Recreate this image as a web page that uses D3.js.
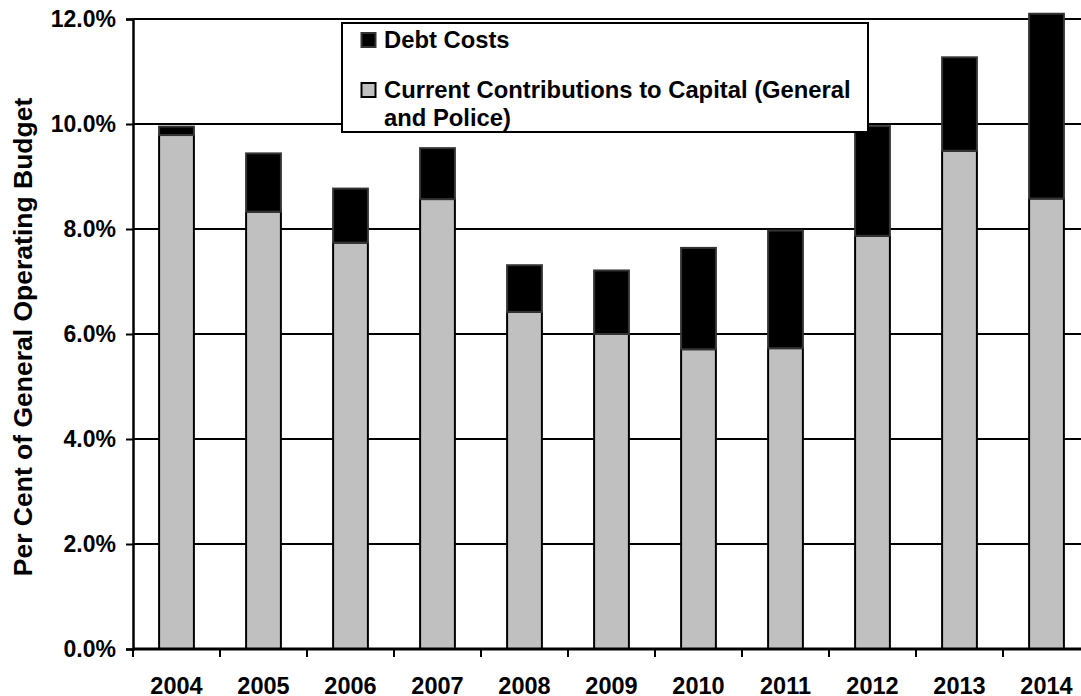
<!DOCTYPE html>
<html>
<head>
<meta charset="utf-8">
<script src="https://cdn.jsdelivr.net/npm/d3@7"></script>
<style>
  body { margin: 0; background: #fff; }
  svg { display: block; font-family: "Liberation Sans", Arial, sans-serif; font-weight: bold; }
</style>
</head>
<body>
<svg id="plot"></svg>
<script>
const years = ["2004", "2005", "2006", "2007", "2008", "2009", "2010", "2011", "2012", "2013", "2014"];
const capital = [9.79, 8.33, 7.74, 8.57, 6.42, 6.0, 5.71, 5.73, 7.87, 9.49, 8.58];
const debt = [0.16, 1.11, 1.03, 0.97, 0.89, 1.21, 1.93, 2.24, 2.09, 1.78, 3.52];
const yTicks = [0, 2, 4, 6, 8, 10, 12];
const seriesNames = ["Debt Costs", "Current Contributions to Capital (General", "and Police)"];

const W = 1081, H = 696;
const plot = { left: 133, bottom: 649, top: 19, right: 1090 };

const svg = d3.select("#plot").attr("width", W).attr("height", H);

const x = d3.scaleBand().domain(years).range([plot.left, plot.right]).padding(0);
const y = d3.scaleLinear().domain([0, 12]).range([plot.bottom, plot.top]);
const bw = x.bandwidth() * 0.4;

// gridlines
svg.append("g")
    .selectAll("line")
    .data(yTicks.filter((d) => d > 0))
    .join("line")
    .attr("x1", plot.left).attr("x2", plot.right)
    .attr("y1", (d) => y(d)).attr("y2", (d) => y(d))
    .attr("stroke", "#000").attr("stroke-width", 2);

const rows = years.map((yr, i) => ({ yr, cap: capital[i], debt: debt[i] }));

// capital (grey) segment
svg.append("g")
    .selectAll("rect")
    .data(rows)
    .join("rect")
    .attr("x", (d) => x(d.yr) + (x.bandwidth() - bw) / 2)
    .attr("width", bw)
    .attr("y", (d) => y(d.cap))
    .attr("height", (d) => y(0) - y(d.cap))
    .attr("fill", "#c0c0c0")
    .attr("stroke", "#000").attr("stroke-width", 2);

// debt (black) segment
svg.append("g")
    .selectAll("rect")
    .data(rows)
    .join("rect")
    .attr("x", (d) => x(d.yr) + (x.bandwidth() - bw) / 2)
    .attr("width", bw)
    .attr("y", (d) => y(d.cap + d.debt))
    .attr("height", (d) => y(d.cap) - y(d.cap + d.debt))
    .attr("fill", "#000")
    .attr("stroke", "#333").attr("stroke-width", 2);

// y axis
const yAxis = d3.axisLeft(y).tickValues(yTicks).tickSize(7).tickPadding(10)
    .tickFormat((d) => d3.format(".1%")(d / 100));
const gy = svg.append("g").attr("transform", `translate(${plot.left},0)`).call(yAxis);
gy.select(".domain").attr("stroke", "#000").attr("stroke-width", 2.5);
gy.selectAll(".tick line").attr("stroke", "#000").attr("stroke-width", 2);
gy.selectAll(".tick text").attr("font-size", 23).attr("font-weight", "bold").attr("fill", "#000");

// x axis
const xAxis = d3.axisBottom(x).tickSize(0).tickPadding(28);
const gx = svg.append("g").attr("transform", `translate(0,${plot.bottom})`).call(xAxis);
gx.select(".domain").remove();
gx.selectAll(".tick text").attr("font-size", 23.5).attr("font-weight", "bold").attr("fill", "#000");
gx.append("line").attr("x1", plot.left).attr("x2", plot.right).attr("stroke", "#000").attr("stroke-width", 3);
gx.selectAll(".sep")
    .data(years)
    .join("line")
    .attr("class", "sep")
    .attr("x1", (d) => x(d)).attr("x2", (d) => x(d))
    .attr("y1", 0).attr("y2", 8)
    .attr("stroke", "#000").attr("stroke-width", 2);

// y title
svg.append("text")
    .attr("transform", "translate(32,337) rotate(-90)")
    .attr("text-anchor", "middle")
    .attr("font-size", 26.5)
    .text("Per Cent of General Operating Budget");

// legend
const lg = svg.append("g");
lg.append("rect").attr("x", 342).attr("y", 23).attr("width", 526).attr("height", 109)
    .attr("fill", "#fff").attr("stroke", "#000").attr("stroke-width", 2);
lg.append("rect").attr("x", 361.5).attr("y", 33).attr("width", 14).attr("height", 14)
    .attr("fill", "#000").attr("stroke", "#333").attr("stroke-width", 2);
lg.append("rect").attr("x", 361.5).attr("y", 83).attr("width", 14).attr("height", 14)
    .attr("fill", "#c0c0c0").attr("stroke", "#000").attr("stroke-width", 2);
lg.selectAll("text")
    .data(seriesNames)
    .join("text")
    .attr("x", 384)
    .attr("y", (d, i) => [48, 98, 126][i])
    .attr("font-size", 23.8)
    .text((d) => d);
</script>
</body>
</html>
